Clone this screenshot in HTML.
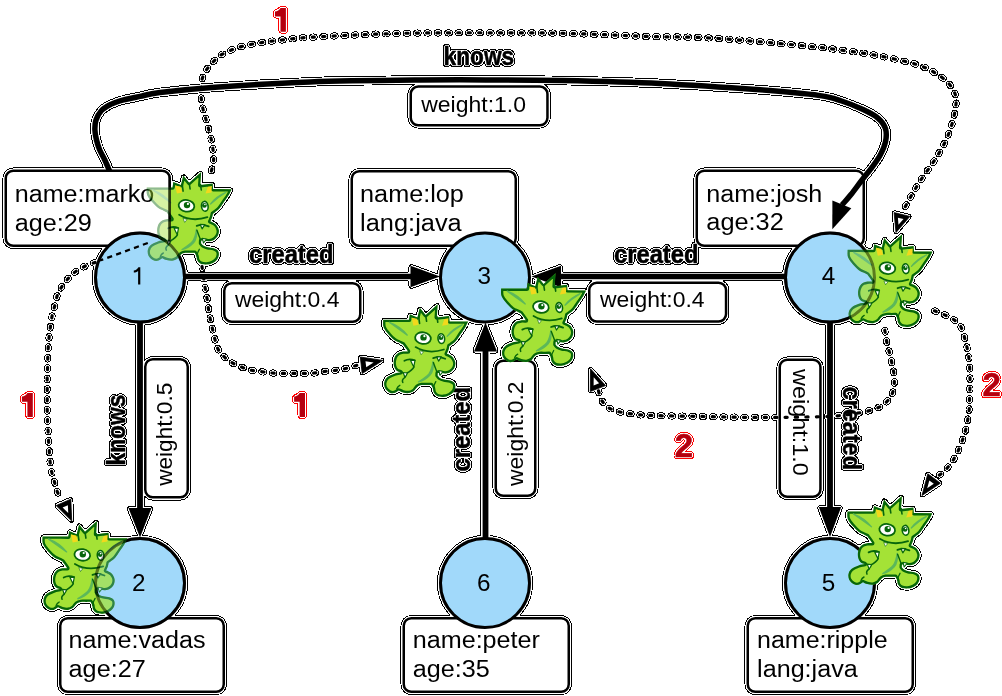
<!DOCTYPE html>
<html><head><meta charset="utf-8"><style>
html,body{margin:0;padding:0;background:#fff;width:1002px;height:696px;overflow:hidden}
svg{display:block}
text{font-family:"Liberation Sans",sans-serif}
</style></head><body>
<svg width="1002" height="696" viewBox="0 0 1002 696">
<defs>
<filter id="halo" filterUnits="userSpaceOnUse" x="0" y="0" width="1002" height="696" color-interpolation-filters="sRGB">
<feGaussianBlur in="SourceAlpha" stdDeviation="1" result="b"/>
<feComponentTransfer in="b" result="d1"><feFuncA type="discrete" tableValues="0 1 1 1 1 1"/></feComponentTransfer>
<feComponentTransfer in="b" result="d2"><feFuncA type="discrete" tableValues="0 1 1 1 1 1 1 1 1 1 1 1 1 1 1 1 1 1 1 1 1 1 1 1 1 1 1 1 1 1"/></feComponentTransfer>
<feFlood flood-color="#000"/><feComposite in2="d2" operator="in" result="ring"/>
<feFlood flood-color="#fff"/><feComposite in2="d1" operator="in" result="wh"/>
<feMerge><feMergeNode in="ring"/><feMergeNode in="wh"/><feMergeNode in="SourceGraphic"/></feMerge>
</filter>
<filter id="haloR" filterUnits="userSpaceOnUse" x="0" y="0" width="1002" height="696" color-interpolation-filters="sRGB">
<feGaussianBlur in="SourceAlpha" stdDeviation="1" result="b"/>
<feComponentTransfer in="b" result="d1"><feFuncA type="discrete" tableValues="0 1 1 1 1 1"/></feComponentTransfer>
<feComponentTransfer in="b" result="d2"><feFuncA type="discrete" tableValues="0 1 1 1 1 1 1 1 1 1 1 1 1 1 1 1 1 1 1 1 1 1 1 1 1 1 1 1 1 1"/></feComponentTransfer>
<feFlood flood-color="#f00"/><feComposite in2="d2" operator="in" result="ring"/>
<feFlood flood-color="#fff"/><feComposite in2="d1" operator="in" result="wh"/>
<feMerge><feMergeNode in="ring"/><feMergeNode in="wh"/><feMergeNode in="SourceGraphic"/></feMerge>
</filter>
<symbol id="grem" overflow="visible">
<clipPath id="gclip"><path d="M0.00,15.60 C2.17,15.60 8.70,15.58 13.00,15.60 C17.30,15.62 23.67,15.68 25.80,15.70 L26.60,10.10 L34.20,13.30 L36.60,3.70 L42.50,10.90 L54.50,0.10 L53.60,13.30 L66.00,11.80 L66.40,17.30 L84.90,17.40 C84.37,18.47 82.98,21.65 81.70,23.80 C80.42,25.95 78.70,28.13 77.20,30.30 C75.70,32.47 74.22,35.08 72.70,36.80 C71.18,38.52 69.18,39.75 68.10,40.60 C67.02,41.45 66.52,41.68 66.20,41.90 C66.08,42.45 65.93,43.90 65.50,45.20 C65.07,46.50 63.92,48.95 63.60,49.70 C63.93,49.82 64.60,49.83 65.60,50.40 C66.60,50.97 68.52,51.78 69.60,53.10 C70.68,54.42 71.82,56.57 72.10,58.30 C72.38,60.03 72.02,61.95 71.30,63.50 C70.58,65.05 69.23,66.62 67.80,67.60 C66.37,68.58 64.27,69.18 62.70,69.40 C61.13,69.62 59.77,69.00 58.40,68.90 C57.03,68.80 55.15,68.82 54.50,68.80 L54.40,71.40 C54.77,71.80 55.50,73.13 56.60,73.80 C57.70,74.47 59.27,74.97 61.00,75.40 C62.73,75.83 65.28,75.80 67.00,76.40 C68.72,77.00 70.45,77.85 71.30,79.00 C72.15,80.15 72.25,81.87 72.10,83.30 C71.95,84.73 71.40,86.30 70.40,87.60 C69.40,88.90 67.82,90.23 66.10,91.10 C64.38,91.97 62.12,92.67 60.10,92.80 C58.08,92.93 55.58,92.62 54.00,91.90 C52.42,91.18 51.32,89.78 50.60,88.50 C49.88,87.22 50.13,85.47 49.70,84.20 C49.27,82.93 48.28,81.45 48.00,80.90 C47.33,80.92 45.58,80.98 44.00,81.00 C42.42,81.02 40.12,80.73 38.50,81.00 C36.88,81.27 35.62,81.62 34.30,82.60 C32.98,83.58 32.07,85.83 30.60,86.90 C29.13,87.97 27.30,88.77 25.50,89.00 C23.70,89.23 21.47,88.73 19.80,88.30 C18.13,87.87 16.22,86.72 15.50,86.40 C14.78,86.83 12.77,88.68 11.20,89.00 C9.63,89.32 7.67,89.13 6.10,88.30 C4.53,87.47 2.63,85.68 1.80,84.00 C0.97,82.32 0.73,80.00 1.10,78.20 C1.47,76.40 2.32,74.63 4.00,73.20 C5.68,71.77 8.95,70.43 11.20,69.60 C13.45,68.77 16.45,68.43 17.50,68.20 C16.78,67.90 14.32,67.43 13.20,66.40 C12.08,65.37 11.23,63.65 10.80,62.00 C10.37,60.35 10.33,58.25 10.60,56.50 C10.87,54.75 11.58,52.82 12.40,51.50 C13.22,50.18 14.27,49.28 15.50,48.60 C16.73,47.92 18.25,47.60 19.80,47.40 C21.35,47.20 23.97,47.40 24.80,47.40 C24.53,47.00 24.03,46.18 23.20,45.00 C22.37,43.82 20.37,41.08 19.80,40.30 C19.32,40.07 18.33,39.62 16.90,38.90 C15.47,38.18 13.12,37.43 11.20,36.00 C9.28,34.57 7.20,32.45 5.40,30.30 C3.60,28.15 1.30,25.55 0.40,23.10 C-0.50,20.65 0.07,16.85 0.00,15.60Z"/></clipPath>
<path d="M0.00,15.60 C2.17,15.60 8.70,15.58 13.00,15.60 C17.30,15.62 23.67,15.68 25.80,15.70 L26.60,10.10 L34.20,13.30 L36.60,3.70 L42.50,10.90 L54.50,0.10 L53.60,13.30 L66.00,11.80 L66.40,17.30 L84.90,17.40 C84.37,18.47 82.98,21.65 81.70,23.80 C80.42,25.95 78.70,28.13 77.20,30.30 C75.70,32.47 74.22,35.08 72.70,36.80 C71.18,38.52 69.18,39.75 68.10,40.60 C67.02,41.45 66.52,41.68 66.20,41.90 C66.08,42.45 65.93,43.90 65.50,45.20 C65.07,46.50 63.92,48.95 63.60,49.70 C63.93,49.82 64.60,49.83 65.60,50.40 C66.60,50.97 68.52,51.78 69.60,53.10 C70.68,54.42 71.82,56.57 72.10,58.30 C72.38,60.03 72.02,61.95 71.30,63.50 C70.58,65.05 69.23,66.62 67.80,67.60 C66.37,68.58 64.27,69.18 62.70,69.40 C61.13,69.62 59.77,69.00 58.40,68.90 C57.03,68.80 55.15,68.82 54.50,68.80 L54.40,71.40 C54.77,71.80 55.50,73.13 56.60,73.80 C57.70,74.47 59.27,74.97 61.00,75.40 C62.73,75.83 65.28,75.80 67.00,76.40 C68.72,77.00 70.45,77.85 71.30,79.00 C72.15,80.15 72.25,81.87 72.10,83.30 C71.95,84.73 71.40,86.30 70.40,87.60 C69.40,88.90 67.82,90.23 66.10,91.10 C64.38,91.97 62.12,92.67 60.10,92.80 C58.08,92.93 55.58,92.62 54.00,91.90 C52.42,91.18 51.32,89.78 50.60,88.50 C49.88,87.22 50.13,85.47 49.70,84.20 C49.27,82.93 48.28,81.45 48.00,80.90 C47.33,80.92 45.58,80.98 44.00,81.00 C42.42,81.02 40.12,80.73 38.50,81.00 C36.88,81.27 35.62,81.62 34.30,82.60 C32.98,83.58 32.07,85.83 30.60,86.90 C29.13,87.97 27.30,88.77 25.50,89.00 C23.70,89.23 21.47,88.73 19.80,88.30 C18.13,87.87 16.22,86.72 15.50,86.40 C14.78,86.83 12.77,88.68 11.20,89.00 C9.63,89.32 7.67,89.13 6.10,88.30 C4.53,87.47 2.63,85.68 1.80,84.00 C0.97,82.32 0.73,80.00 1.10,78.20 C1.47,76.40 2.32,74.63 4.00,73.20 C5.68,71.77 8.95,70.43 11.20,69.60 C13.45,68.77 16.45,68.43 17.50,68.20 C16.78,67.90 14.32,67.43 13.20,66.40 C12.08,65.37 11.23,63.65 10.80,62.00 C10.37,60.35 10.33,58.25 10.60,56.50 C10.87,54.75 11.58,52.82 12.40,51.50 C13.22,50.18 14.27,49.28 15.50,48.60 C16.73,47.92 18.25,47.60 19.80,47.40 C21.35,47.20 23.97,47.40 24.80,47.40 C24.53,47.00 24.03,46.18 23.20,45.00 C22.37,43.82 20.37,41.08 19.80,40.30 C19.32,40.07 18.33,39.62 16.90,38.90 C15.47,38.18 13.12,37.43 11.20,36.00 C9.28,34.57 7.20,32.45 5.40,30.30 C3.60,28.15 1.30,25.55 0.40,23.10 C-0.50,20.65 0.07,16.85 0.00,15.60Z" fill="#a4e236" stroke="#07660b" stroke-width="4.6" stroke-linejoin="round" clip-path="url(#gclip)"/>
<path d="M6.1,18.2 Q17,22 24.1,31 Q15,24.5 6.1,18.2Z" fill="#5cb85a" stroke="#5cb85a" stroke-width="1.3" stroke-linejoin="round"/>
<path d="M79.1,20.6 Q69,25 63.9,32.2 Q70.5,25.8 79.1,20.6Z" fill="#5cb85a" stroke="#5cb85a" stroke-width="1.3" stroke-linejoin="round"/>
<path d="M42.6,11.8 L43.4,17.2" stroke="#07660b" stroke-width="1.6" stroke-linecap="round"/>
<path d="M35.6,13.2 L36.4,19.4" stroke="#07660b" stroke-width="1.6" stroke-linecap="round"/>
<path d="M53.8,12.8 L54.6,18.2" stroke="#07660b" stroke-width="1.6" stroke-linecap="round"/>
<path d="M28.4,13.6 L33.8,14.6 L35.4,20.6 L30.2,21.6Z" fill="#f2d81c"/>
<path d="M58.8,21.6 L61.2,15 L65.2,14.2 L64.8,20.6Z" fill="#f2d81c"/>
<path d="M49.8,57.6 C50.4,63.5 48.8,68.8 46.8,71 C43.5,74.5 39.5,76.8 35.4,77.8 C39.5,75.2 43.8,72.3 46,69.5 C48,66.5 49.2,62.5 49.8,57.6Z" fill="#5cb85a" stroke="#5cb85a" stroke-width="1.4" stroke-linejoin="round"/>
<path d="M21.2,56.6 C24.5,54.8 28.5,55 31.6,56.2" fill="none" stroke="#07660b" stroke-width="1.8" stroke-linecap="round"/>
<path d="M27.4,56.4 L31.8,56.2 L30.6,62.8 C29.6,61.2 28.4,58.6 27.4,56.4Z" fill="#fff" stroke="#07660b" stroke-width="1.2" stroke-linejoin="round"/>
<path d="M30.8,62.8 C29.5,65.5 26.5,67.5 23,69.4" fill="none" stroke="#07660b" stroke-width="1.5" stroke-linecap="round"/>
<path d="M19.8,68.4 L24.2,68.9 C23.6,70.6 22.8,72 21.6,73.4 C21.2,71.6 20.6,69.8 19.8,68.4Z" fill="#fff" stroke="#07660b" stroke-width="1.2" stroke-linejoin="round"/>
<path d="M21.6,73.4 C19.5,74.8 18.8,76.8 19.6,78.4" fill="none" stroke="#07660b" stroke-width="1.5" stroke-linecap="round"/>
<path d="M13.6,84.6 C14.2,83 15.2,81.8 16.6,81.2" fill="none" stroke="#07660b" stroke-width="1.4" stroke-linecap="round"/>
<path d="M50,54 C53.5,52.6 58,52.8 62,54.6" fill="none" stroke="#07660b" stroke-width="1.8" stroke-linecap="round"/>
<path d="M53.6,52.6 L58.2,52.8 L55.4,57 C54.7,55.6 54.1,54.2 53.6,52.6Z" fill="#fff" stroke="#07660b" stroke-width="1.2" stroke-linejoin="round"/>
<path d="M50.2,58.5 C51.5,62 52.6,65 53.8,68" fill="none" stroke="#07660b" stroke-width="1.4" stroke-linecap="round"/>
<path d="M55.6,66.4 L59.8,67.4 L56.8,71.2 C56.4,69.6 56,68 55.6,66.4Z" fill="#fff" stroke="#07660b" stroke-width="1.1" stroke-linejoin="round"/>
<path d="M50.3,84.5 C50.6,81.5 51.2,79.5 52.6,77.5" fill="none" stroke="#07660b" stroke-width="1.3" stroke-linecap="round"/>
<ellipse cx="39.8" cy="34" rx="7.9" ry="5.8" fill="#fff" stroke="#07660b" stroke-width="1.8" transform="rotate(8 39.8 34)"/>
<circle cx="40.3" cy="33.3" r="3.2" fill="#07660b"/>
<circle cx="41.2" cy="32.1" r="1.1" fill="#fff"/>
<ellipse cx="58.1" cy="34.5" rx="3.3" ry="4.9" fill="#fff" stroke="#07660b" stroke-width="1.6" transform="rotate(-8 58.1 34.5)"/>
<circle cx="57.7" cy="33.6" r="2.4" fill="#07660b"/>
<circle cx="58.2" cy="32.7" r="0.8" fill="#fff"/>
<path d="M32.4,43 Q45,50.5 60.7,45.4" fill="none" stroke="#07660b" stroke-width="1.8" stroke-linecap="round"/>
<path d="M36.3,46.6 L40.4,47.6 L38,50.6Z" fill="#fff" stroke="#07660b" stroke-width="0.6"/>
</symbol>
<mask id="m1" maskUnits="userSpaceOnUse" x="0" y="0" width="1002" height="696">
<rect width="1002" height="696" fill="#fff"/><rect x="4.5" y="169.5" width="166.5" height="77.5" rx="9" fill="#737373"/>
<circle cx="140" cy="277.5" r="46" fill="#a0a0a0"/></mask>
<mask id="m2" maskUnits="userSpaceOnUse" x="0" y="0" width="1002" height="696">
<rect width="1002" height="696" fill="#fff"/><circle cx="140" cy="583" r="46" fill="#bfbfbf"/></mask>
<mask id="m4" maskUnits="userSpaceOnUse" x="0" y="0" width="1002" height="696">
<rect width="1002" height="696" fill="#fff"/><circle cx="830" cy="277.5" r="46" fill="#c8c8c8"/></mask>
</defs>
<rect width="1002" height="696" fill="#fff"/>
<g filter="url(#halo)">
<rect x="351.75" y="171.25" width="164.0" height="74.5" rx="7.5" fill="#fff" stroke="#000" stroke-width="2.5"/><text x="360.1" y="201.9" font-size="23" textLength="103.8" lengthAdjust="spacingAndGlyphs">name:lop</text><text x="360.1" y="230.9" font-size="23" textLength="101.6" lengthAdjust="spacingAndGlyphs">lang:java</text>
<rect x="696.75" y="170.75" width="167.0" height="75.0" rx="7.5" fill="#fff" stroke="#000" stroke-width="2.5"/><text x="706.3000000000001" y="201.5" font-size="23" textLength="116.0" lengthAdjust="spacingAndGlyphs">name:josh</text><text x="706.3000000000001" y="230.3" font-size="23" textLength="77.5" lengthAdjust="spacingAndGlyphs">age:32</text>
<path d="M109.6,171.0 C108.8,169.2 106.4,163.5 104.8,160.0 C103.2,156.5 101.1,153.3 99.7,150.0 C98.3,146.7 97.3,143.3 96.5,140.0 C95.7,136.7 95.0,133.3 94.9,130.0 C94.8,126.7 94.9,123.2 96.0,120.0 C97.1,116.8 99.1,113.1 101.5,110.5 C103.9,107.9 107.4,106.1 110.5,104.5 C113.6,102.9 115.1,102.1 120.0,100.8 C124.9,99.5 133.3,97.8 140.0,96.4 C146.7,95.0 147.5,94.1 160.0,92.6 C172.5,91.1 190.0,89.1 215.0,87.3 C240.0,85.5 275.8,83.1 310.0,81.9 C344.2,80.7 390.0,80.3 420.0,80.0 C450.0,79.7 466.7,79.8 490.0,79.9 C513.3,80.0 531.7,79.9 560.0,80.5 C588.3,81.1 626.7,81.9 660.0,83.4 C693.3,85.0 733.3,87.8 760.0,89.8 C786.7,91.8 806.4,93.7 820.0,95.6 C833.6,97.5 834.4,98.7 841.6,101.0 C848.8,103.3 857.0,106.7 863.1,109.6 C869.2,112.5 874.5,115.1 878.2,118.3 C881.9,121.5 884.3,124.9 885.5,128.8 C886.7,132.7 886.4,137.5 885.5,141.8 C884.6,146.1 882.7,150.4 880.4,154.7 C878.1,159.0 874.9,163.4 871.8,167.6 C868.7,171.8 865.5,175.5 862.0,180.0 C858.5,184.5 854.3,190.3 851.0,194.5 C847.7,198.7 843.5,203.2 842.0,205.0" fill="none" stroke="#000" stroke-width="5.5"/>
<polygon points="832.4,200.6 851.3,208.3 832.3,229.3" fill="#000"/>
<rect x="410.75" y="86.55" width="136.70000000000005" height="38.7" rx="7.5" fill="#fff" stroke="#000" stroke-width="2.5"/>
<text x="421.2" y="111.9" font-size="22" textLength="104.8" lengthAdjust="spacingAndGlyphs">weight:1.0</text>
<text x="443.6" y="65.2" font-size="26" font-weight="bold" stroke="currentColor" stroke-width="0.5" textLength="70.6" lengthAdjust="spacingAndGlyphs">knows</text>
<line x1="185" y1="276.5" x2="415" y2="276.5" stroke="#000" stroke-width="5.5"/>
<polygon points="410.5,265.8 410.5,287.2 440.0,276.5" fill="#000"/>
<line x1="785" y1="276.5" x2="556" y2="276.5" stroke="#000" stroke-width="5.5"/>
<polygon points="561.0,265.8 561.0,287.2 531.5,276.5" fill="#000"/>
<rect x="224.25" y="283.25" width="136.0" height="38.5" rx="7.5" fill="#fff" stroke="#000" stroke-width="2.5"/>
<text x="234.9" y="306.8" font-size="22" textLength="104.6" lengthAdjust="spacingAndGlyphs">weight:0.4</text>
<rect x="589.25" y="282.75" width="136.79999999999995" height="38.80000000000001" rx="7.5" fill="#fff" stroke="#000" stroke-width="2.5"/>
<text x="600" y="306.8" font-size="22" textLength="104.5" lengthAdjust="spacingAndGlyphs">weight:0.4</text>
<text x="249" y="263" font-size="25.5" font-weight="bold" stroke="currentColor" stroke-width="0.5" textLength="84.5" lengthAdjust="spacingAndGlyphs">created</text>
<text x="614" y="263" font-size="25.5" font-weight="bold" stroke="currentColor" stroke-width="0.5" textLength="84.5" lengthAdjust="spacingAndGlyphs">created</text>
<line x1="140" y1="322" x2="140" y2="512" stroke="#000" stroke-width="5.8"/>
<polygon points="128.5,508.0 151.5,508.0 140.0,537.5" fill="#000"/>
<line x1="485.5" y1="540" x2="485.5" y2="348" stroke="#000" stroke-width="5.8"/>
<polygon points="474.0,351.6 497.0,351.6 485.5,322.5" fill="#000"/>
<line x1="830" y1="322" x2="830" y2="510" stroke="#000" stroke-width="5.8"/>
<polygon points="818.8,507.0 841.2,507.0 830.0,537.0" fill="#000"/>
<rect x="145.25" y="359.25" width="42.5" height="138.0" rx="7.5" fill="#fff" stroke="#000" stroke-width="2.5"/>
<text x="171.7" y="485.8" font-size="22" textLength="103.1" lengthAdjust="spacingAndGlyphs" transform="rotate(-90 171.7 485.8)">weight:0.5</text>
<rect x="495.75" y="360.75" width="39.5" height="135.0" rx="7.5" fill="#fff" stroke="#000" stroke-width="2.5"/>
<text x="522.8" y="486" font-size="22" textLength="104.6" lengthAdjust="spacingAndGlyphs" transform="rotate(-90 522.8 486)">weight:0.2</text>
<rect x="779.75" y="359.75" width="40.700000000000045" height="137.0" rx="7.5" fill="#fff" stroke="#000" stroke-width="2.5"/>
<text x="793.3" y="369" font-size="22" textLength="106.8" lengthAdjust="spacingAndGlyphs" transform="rotate(90 793.3 369)">weight:1.0</text>
<text x="124.5" y="465.5" font-size="25.5" font-weight="bold" stroke="currentColor" stroke-width="0.5" textLength="71" lengthAdjust="spacingAndGlyphs" transform="rotate(-90 124.5 465.5)">knows</text>
<text x="470" y="471.5" font-size="25.5" font-weight="bold" stroke="currentColor" stroke-width="0.5" textLength="84.5" lengthAdjust="spacingAndGlyphs" transform="rotate(-90 470 471.5)">created</text>
<text x="843" y="386.5" font-size="25" font-weight="bold" stroke="currentColor" stroke-width="0.5" textLength="83.5" lengthAdjust="spacingAndGlyphs" transform="rotate(90 843 386.5)">created</text>
<rect x="60.25" y="618.25" width="163.5" height="73.5" rx="7.5" fill="#fff" stroke="#000" stroke-width="2.5"/><text x="68.6" y="647.9" font-size="23" textLength="137.0" lengthAdjust="spacingAndGlyphs">name:vadas</text><text x="68.6" y="677.1999999999999" font-size="23" textLength="77.1" lengthAdjust="spacingAndGlyphs">age:27</text>
<rect x="403.75" y="618.25" width="165.0" height="73.5" rx="7.5" fill="#fff" stroke="#000" stroke-width="2.5"/><text x="412.70000000000005" y="647.9" font-size="23" textLength="127.3" lengthAdjust="spacingAndGlyphs">name:peter</text><text x="412.70000000000005" y="677.1999999999999" font-size="23" textLength="77.0" lengthAdjust="spacingAndGlyphs">age:35</text>
<rect x="747.75" y="618.25" width="165.0" height="73.5" rx="7.5" fill="#fff" stroke="#000" stroke-width="2.5"/><text x="757.1" y="647.9" font-size="23" textLength="130.5" lengthAdjust="spacingAndGlyphs">name:ripple</text><text x="757.1" y="677.1999999999999" font-size="23" textLength="100.6" lengthAdjust="spacingAndGlyphs">lang:java</text>
<rect x="5.75" y="170.75" width="164.0" height="75.0" rx="7.5" fill="#fff" stroke="#000" stroke-width="2.5"/><text x="14.7" y="201.8" font-size="23" textLength="139.60000000000002" lengthAdjust="spacingAndGlyphs">name:marko</text><text x="14.7" y="230.6" font-size="23" textLength="77.1" lengthAdjust="spacingAndGlyphs">age:29</text>
<circle cx="140" cy="277.5" r="44.5" fill="#a1d9fa" stroke="#000" stroke-width="3"/><path d="M140.3,267.2 L140.3,284.6 L138.1,284.6 L138.1,270.9 C136.8,271.9 135.3,272.5 133.8,272.6 L133.8,270.6 C135.8,270.3 137.4,269 138.4,267.2 Z" fill="#000"/>
<g mask="url(#m1)"><use href="#grem" x="146.7" y="171.8"/></g>
<line x1="169.5" y1="176" x2="169.5" y2="242" stroke="#000" stroke-width="3" opacity="0.4"/>
<circle cx="140" cy="277.5" r="44.5" fill="none" stroke="#000" stroke-width="3" opacity="0.3"/>
<circle cx="140" cy="583" r="44.5" fill="#a1d9fa" stroke="#000" stroke-width="3"/><text x="138.8" y="590.6" font-size="24.3" text-anchor="middle">2</text>
<g mask="url(#m2)"><use href="#grem" x="42.5" y="520.9"/></g>
<circle cx="140" cy="583" r="44.5" fill="none" stroke="#000" stroke-width="3" opacity="0.3"/>
<circle cx="485" cy="277.5" r="44.5" fill="#a1d9fa" stroke="#000" stroke-width="3"/><text x="484.2" y="283.9" font-size="24.3" text-anchor="middle">3</text>
<use href="#grem" x="501.1" y="273.0"/>
<use href="#grem" x="383.2" y="304.1"/>
<circle cx="830" cy="277.5" r="44.5" fill="#a1d9fa" stroke="#000" stroke-width="3"/><text x="828.4" y="283.8" font-size="24.3" text-anchor="middle">4</text>
<g mask="url(#m4)"><use href="#grem" x="847.6" y="234.2"/></g>
<circle cx="830" cy="277.5" r="44.5" fill="none" stroke="#000" stroke-width="3" opacity="0.3"/>
<circle cx="830" cy="583" r="44.5" fill="#a1d9fa" stroke="#000" stroke-width="3"/><text x="828.6" y="590.6" font-size="24.3" text-anchor="middle">5</text>
<use href="#grem" x="847.4" y="495.8"/>
<circle cx="485" cy="583" r="44.5" fill="#a1d9fa" stroke="#000" stroke-width="3"/><text x="483.8" y="590.6" font-size="24.3" text-anchor="middle">6</text>
<path d="M211.4,171.0 C211.8,169.2 213.3,163.6 213.6,160.0 C213.9,156.4 213.4,153.0 213.0,149.7 C212.6,146.4 212.1,143.5 211.4,140.2 C210.7,136.9 209.7,133.2 208.8,129.8 C207.9,126.4 207.0,123.0 206.0,119.5 C205.0,116.0 203.8,112.5 203.0,109.0 C202.2,105.5 201.6,102.3 201.3,98.8 C201.0,95.3 201.1,91.4 201.3,88.0 C201.5,84.6 201.4,81.5 202.3,78.5 C203.2,75.5 204.6,72.6 206.5,69.8 C208.4,67.0 211.1,64.0 213.5,61.5 C215.9,59.0 218.1,56.9 221.0,55.0 C223.9,53.1 227.4,51.7 230.8,50.3 C234.2,48.9 237.8,47.6 241.3,46.6 C244.8,45.6 248.5,44.9 251.8,44.2 C255.2,43.5 258.1,43.1 261.4,42.6 C264.6,42.1 267.9,41.6 271.3,41.2 C274.7,40.8 278.2,40.4 281.7,40.0 C285.2,39.6 288.7,39.2 292.2,38.8 C295.7,38.4 293.1,38.4 302.7,37.8 C312.3,37.2 333.8,35.9 350.0,35.2 C366.2,34.5 383.5,33.8 400.0,33.4 C416.5,33.0 432.3,32.9 449.0,32.8 C465.7,32.7 483.2,32.8 500.0,32.8 C516.8,32.8 533.3,32.7 550.0,33.0 C566.7,33.3 583.3,33.9 600.0,34.5 C616.7,35.1 633.3,36.0 650.0,36.5 C666.7,37.0 683.3,36.8 700.0,37.5 C716.7,38.2 732.0,39.5 750.0,41.0 C768.0,42.5 792.2,44.6 807.8,46.2 C823.4,47.8 831.7,48.9 843.7,50.5 C855.7,52.1 867.7,53.7 879.7,56.0 C891.7,58.3 906.6,61.5 915.6,64.2 C924.6,66.9 928.2,68.9 933.6,72.0 C939.0,75.1 944.2,78.7 947.9,82.6 C951.5,86.5 954.2,91.0 955.5,95.2 C956.8,99.4 956.2,102.7 955.5,107.8 C954.8,112.9 953.4,119.8 951.5,125.8 C949.6,131.8 947.3,137.7 944.3,143.7 C941.3,149.7 937.5,155.7 933.6,161.7 C929.7,167.7 924.9,173.7 921.0,179.7 C917.1,185.7 913.1,192.5 910.2,197.6 C907.3,202.7 904.6,207.9 903.5,210.0" fill="none" stroke="#000" stroke-dasharray="2.2 8.2" stroke-width="3.2" stroke-linecap="round"/>
<polygon points="894.1,212.6 909.8,216.4 896.0,232.5" fill="#000" stroke="#000" stroke-width="0.8" stroke-linejoin="round"/><polygon points="897.9,217.7 903.5,219.0 898.5,224.8" fill="#fff"/>
<path d="M202.0,266.5 C202.5,270.1 204.3,282.7 205.2,288.4 C206.1,294.1 206.8,297.0 207.4,300.5 C208.0,304.0 208.0,306.2 208.5,309.3 C209.0,312.4 209.6,315.9 210.3,319.2 C211.0,322.5 211.7,325.5 212.5,329.0 C213.3,332.5 214.1,336.5 215.1,340.0 C216.1,343.5 216.8,347.0 218.4,349.9 C220.1,352.8 222.6,355.4 225.0,357.6 C227.4,359.8 229.8,361.5 232.7,363.1 C235.6,364.8 239.5,366.3 242.6,367.5 C245.7,368.7 248.1,369.6 251.4,370.3 C254.7,371.0 258.8,371.4 262.3,371.8 C265.8,372.2 268.7,372.7 272.2,373.0 C275.7,373.3 279.5,373.3 283.2,373.4 C286.9,373.5 290.7,373.4 294.2,373.4 C297.7,373.4 300.7,373.5 304.0,373.4 C307.3,373.3 310.4,373.3 313.9,373.0 C317.4,372.7 321.2,371.8 324.9,371.4 C328.6,370.9 332.4,370.8 335.9,370.3 C339.4,369.8 342.4,369.3 345.7,368.5 C349.0,367.7 353.1,366.4 355.6,365.7 C358.2,365.0 360.1,364.7 361.0,364.5" fill="none" stroke="#000" stroke-dasharray="2.2 8.2" stroke-width="3.2" stroke-linecap="round"/>
<polygon points="360.3,357.0 362.2,373.5 382.8,360.4" fill="#000" stroke="#000" stroke-width="0.8" stroke-linejoin="round"/><polygon points="365.5,361.2 366.2,367.2 373.6,362.5" fill="#fff"/>
<path d="M147.8,243 L100,260.5" stroke="#000" stroke-width="2.3" stroke-dasharray="5.2 4.3" fill="none"/>
<path d="M95.0,262.5 C93.6,263.0 89.7,264.0 86.7,265.4 C83.7,266.8 79.7,268.9 76.8,270.8 C73.9,272.7 71.9,274.6 69.6,277.0 C67.3,279.4 64.8,282.2 62.8,285.2 C60.8,288.1 58.9,291.4 57.6,294.7 C56.3,298.0 55.9,301.7 55.0,305.0 C54.1,308.3 53.1,311.2 52.4,314.5 C51.7,317.8 51.2,321.4 50.7,324.8 C50.2,328.2 49.7,331.8 49.3,335.2 C48.9,338.6 48.6,342.1 48.4,345.5 C48.1,348.9 47.9,352.4 47.8,355.9 C47.7,359.3 47.7,362.8 47.6,366.2 C47.5,369.6 47.3,373.2 47.2,376.6 C47.1,380.1 47.2,383.4 47.2,386.9 C47.2,390.3 47.2,393.8 47.2,397.3 C47.2,400.8 47.2,404.4 47.2,408.0 C47.2,411.6 47.3,415.3 47.4,418.8 C47.5,422.3 47.8,425.8 48.0,429.2 C48.2,432.6 48.2,435.8 48.4,439.3 C48.6,442.8 49.0,446.5 49.2,450.0 C49.5,453.5 49.5,456.8 49.9,460.2 C50.3,463.6 50.7,467.2 51.4,470.6 C52.1,474.0 53.3,477.3 54.2,480.7 C55.1,484.1 55.7,487.8 57.0,491.0 C58.3,494.2 61.2,498.5 62.0,500.0" fill="none" stroke="#000" stroke-dasharray="2.2 8.2" stroke-width="3.2" stroke-linecap="round"/>
<polygon points="56.2,505.6 70.8,499.2 71.7,521.0" fill="#000" stroke="#000" stroke-width="0.8" stroke-linejoin="round"/><polygon points="62.6,507.5 67.9,505.2 68.2,513.1" fill="#fff"/>
<path d="M884.8,330.2 C885.2,332.3 885.9,338.0 887.0,343.0 C888.1,348.0 890.1,354.6 891.3,360.4 C892.5,366.2 894.1,372.2 894.3,377.6 C894.5,383.0 894.2,388.4 892.6,392.7 C891.0,397.0 888.2,400.6 884.8,403.5 C881.3,406.4 877.6,408.2 871.9,410.0 C866.1,411.8 857.5,413.2 850.3,414.3 C843.1,415.4 839.5,415.9 828.7,416.4 C817.9,416.9 800.0,417.1 785.6,417.3 C771.2,417.5 756.9,417.5 742.5,417.3 C728.1,417.1 713.8,416.7 699.4,416.4 C685.0,416.1 667.0,416.0 656.2,415.6 C645.4,415.2 641.9,415.2 634.7,414.3 C627.5,413.4 618.5,412.2 613.1,410.0 C607.7,407.8 604.8,404.8 602.3,401.3 C599.8,397.8 598.7,391.1 598.0,389.0" fill="none" stroke="#000" stroke-dasharray="2.2 8.2" stroke-width="3.2" stroke-linecap="round"/>
<polygon points="590.5,368.8 590.3,391.5 605.5,385.6" fill="#000" stroke="#000" stroke-width="0.8" stroke-linejoin="round"/><polygon points="593.7,377.2 593.6,385.4 599.1,383.3" fill="#fff"/>
<path d="M934.4,310.8 C936.9,311.9 945.2,314.7 949.5,317.2 C953.8,319.7 957.6,321.6 960.3,325.9 C963.0,330.2 964.5,337.8 965.9,343.1 C967.3,348.5 968.2,352.0 968.9,358.0 C969.6,364.0 969.9,372.2 970.0,379.0 C970.1,385.8 969.7,393.5 969.5,399.0 C969.3,404.5 969.7,406.3 968.9,412.1 C968.1,417.9 966.8,426.5 964.6,433.7 C962.5,440.9 959.2,449.1 956.0,455.2 C952.8,461.3 948.7,466.5 945.2,470.3 C941.7,474.1 936.7,476.7 935.0,478.0" fill="none" stroke="#000" stroke-dasharray="2.2 8.2" stroke-width="3.2" stroke-linecap="round"/>
<polygon points="927.8,473.8 940.4,483.2 922.0,495.5" fill="#000" stroke="#000" stroke-width="0.8" stroke-linejoin="round"/><polygon points="929.3,480.4 933.8,483.8 927.2,488.2" fill="#fff"/>
</g>
<g filter="url(#haloR)">
<path d="M0,0 L0,23.9 L-5.4,23.9 L-5.4,8.7 L-10.9,8.7 L-10.9,3.6 C-8.5,3.4 -6.6,2 -5.4,0 Z" transform="translate(285.9 7.9)" fill="#b5000f"/>
<path d="M0,0 L0,23.9 L-5.4,23.9 L-5.4,8.7 L-10.9,8.7 L-10.9,3.6 C-8.5,3.4 -6.6,2 -5.4,0 Z" transform="translate(305 393)" fill="#b5000f"/>
<path d="M0,0 L0,23.9 L-5.4,23.9 L-5.4,8.7 L-10.9,8.7 L-10.9,3.6 C-8.5,3.4 -6.6,2 -5.4,0 Z" transform="translate(32.8 393)" fill="#b5000f"/>
<text x="674.8" y="457.4" font-size="33" font-weight="bold" stroke="currentColor" stroke-width="0.5" fill="#b5000f" color="#b5000f">2</text>
<text x="982.5" y="395.5" font-size="33" font-weight="bold" stroke="currentColor" stroke-width="0.5" fill="#b5000f" color="#b5000f">2</text>
</g>
</svg>
</body></html>
